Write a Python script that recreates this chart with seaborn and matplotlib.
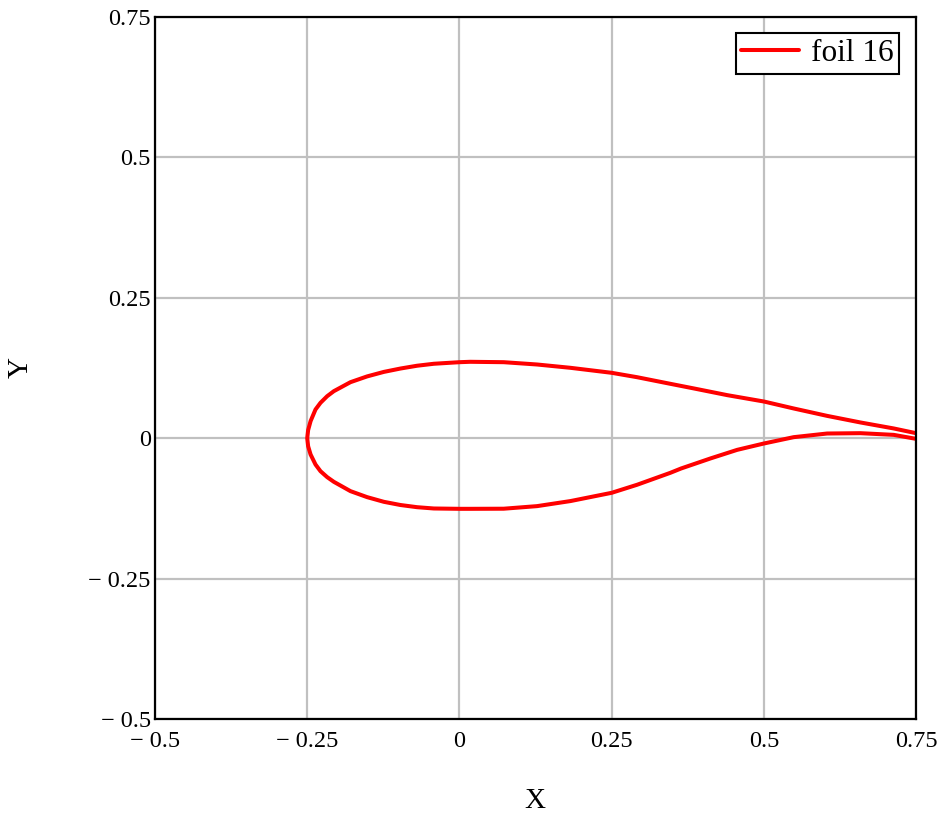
import matplotlib
matplotlib.use("Agg")
import matplotlib.pyplot as plt
import seaborn as sns
import pandas as pd
from matplotlib.ticker import FixedLocator, FixedFormatter

# Airfoil contour, upper surface (leading edge -> trailing edge)
upper_x = [-0.25, -0.2485, -0.2445, -0.2364, -0.2282, -0.2172, -0.2063, -0.179, -0.1516, -0.1242,
           -0.0969, -0.0695, -0.042, 0.0, 0.0176, 0.0727, 0.1275, 0.1823, 0.25, 0.2917, 0.3464,
           0.3853, 0.44, 0.5, 0.549, 0.604, 0.6586, 0.7134, 0.75]
upper_y = [0.0, 0.0145, 0.0303, 0.0511, 0.063, 0.0748, 0.0837, 0.0997, 0.110, 0.118,
           0.124, 0.129, 0.1325, 0.1353, 0.136, 0.1353, 0.1312, 0.1253, 0.1164, 0.1086, 0.0968,
           0.0885, 0.0766, 0.0653, 0.0529, 0.0397, 0.028, 0.0173, 0.0089]

# Lower surface (leading edge -> trailing edge)
lower_x = [-0.25, -0.2485, -0.2445, -0.2364, -0.2282, -0.2172, -0.2063, -0.179, -0.1516, -0.1242,
           -0.0969, -0.0695, -0.042, 0.0, 0.0176, 0.0727, 0.1275, 0.1823, 0.25, 0.2917, 0.3464,
           0.364, 0.4126, 0.4562, 0.5, 0.549, 0.604, 0.6586, 0.7134, 0.75]
lower_y = [0.0, -0.0145, -0.029, -0.0469, -0.0588, -0.0694, -0.0777, -0.0943, -0.105, -0.1133,
           -0.119, -0.1229, -0.1252, -0.1258, -0.1258, -0.1256, -0.121, -0.112, -0.0973, -0.083, -0.0617,
           -0.054, -0.036, -0.0208, -0.0095, 0.0018, 0.0083, 0.0089, 0.0059, -0.0012]

series_name = "foil 16"

tick_values = [-0.5, -0.25, 0.0, 0.25, 0.5, 0.75]
tick_labels = ["\u2212 0.5", "\u2212 0.25", "0", "0.25", "0.5", "0.75"]

# Closed path: trailing edge along the upper surface to the nose, then back along the lower surface
path_x = upper_x[::-1] + lower_x[1:]
path_y = upper_y[::-1] + lower_y[1:]
df = pd.DataFrame({"X": path_x, "Y": path_y, "series": series_name})

sns.set_theme(style="whitegrid")
plt.rcParams["font.family"] = ["Liberation Serif", "DejaVu Serif"]
plt.rcParams["text.color"] = "black"
plt.rcParams["axes.labelcolor"] = "black"

fig = plt.figure(figsize=(9.47, 8.16), dpi=100)
ax = fig.add_axes([0.1637, 0.1189, 0.9673 - 0.1637, 0.9792 - 0.1189])

sns.lineplot(data=df, x="X", y="Y", hue="series", sort=False, estimator=None,
             palette=["#ff0000"], linewidth=2.9, ax=ax)

ax.set_xlim(-0.5, 0.75)
ax.set_ylim(-0.5, 0.75)

ax.xaxis.set_major_locator(FixedLocator(tick_values))
ax.xaxis.set_major_formatter(FixedFormatter(tick_labels))
ax.yaxis.set_major_locator(FixedLocator(tick_values))
ax.yaxis.set_major_formatter(FixedFormatter(tick_labels))
ax.tick_params(axis="both", length=0, labelsize=17.5, colors="black")
ax.tick_params(axis="x", pad=9)
ax.tick_params(axis="y", pad=3)

ax.grid(True, color="#c0c0c0", linewidth=1.6)
ax.set_axisbelow(True)
for sp in ax.spines.values():
    sp.set_visible(True)
    sp.set_color("black")
    sp.set_linewidth(1.6)

ax.set_xlabel("X", fontsize=21, color="black")
ax.set_ylabel("Y", fontsize=21, rotation=90, color="black")
ax.xaxis.set_label_coords(0.4993, -0.098)
ax.yaxis.set_label_coords(-0.160, 0.501)

leg = ax.legend(loc="upper right", bbox_to_anchor=(0.9777, 0.9768), borderaxespad=0,
                fontsize=22.5, frameon=True, fancybox=False,
                handlelength=1.85, handletextpad=0.37, borderpad=0.18)
leg.get_frame().set_edgecolor("black")
leg.get_frame().set_linewidth(1.5)
leg.get_frame().set_alpha(1)
leg.set_title(None)
for t in leg.get_texts():
    t.set_color("black")

fig.savefig("out.png", dpi=100, facecolor="white")
